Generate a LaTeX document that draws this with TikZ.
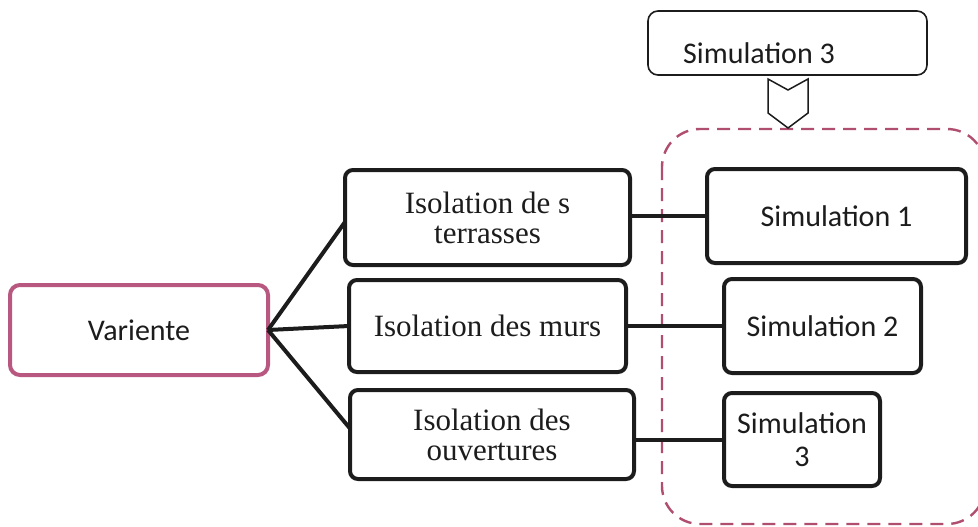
\documentclass[tikz,border=0pt]{standalone}
\usepackage{fontspec}
\setmainfont{Liberation Serif}
\newfontfamily\calib{Carlito}
\definecolor{mauve}{RGB}{184,88,128}
\definecolor{dashmauve}{RGB}{176,78,112}
\definecolor{ink}{RGB}{28,28,28}
\begin{document}
\begin{tikzpicture}[x=1pt,y=-1pt,
  box/.style={draw=ink, line width=4pt, rounded corners=8pt, inner sep=0pt, outer sep=0pt, text=ink, align=center},
  sbox/.style={box, font=\calib\fontsize{30}{33}\selectfont},
  ibox/.style={box, font=\fontsize{31}{30}\selectfont},
  vbox/.style={box, draw=mauve, rounded corners=10pt, font=\calib\fontsize{30}{33}\selectfont},
  topbox/.style={draw=ink, line width=1.6pt, rounded corners=10pt, inner sep=0pt, outer sep=0pt, text=ink, font=\calib\fontsize{30}{33}\selectfont},
  link/.style={draw=ink, line width=4pt},
  group/.style={draw=dashmauve, line width=2.4pt, dash pattern=on 13pt off 8pt, rounded corners=38pt}]
\useasboundingbox (0,0) rectangle (978,527);
\begin{scope}
  \clip (0,0) rectangle (978,527);
  % dashed frame around the simulations
  \draw[group] (662,129) rectangle (985,524);
\end{scope}
% header box and chevron
\node[topbox, minimum width=279pt, minimum height=64pt] (top) at (787.5,43)
  {\raisebox{-10pt}[\height][\depth]{Simulation 3}\kern57pt\relax};
\coordinate (cv) at (788,79);
\draw[ink, line width=1.5pt, line join=miter]
  (cv) ++(-20,0) -- ++(20,11) -- ++(20,-11) -- ++(0,34) -- ++(-20,15) -- ++(-20,-15) -- cycle;
% root
\node[vbox, minimum width=258pt, minimum height=90pt] (var) at (139,330) {Variente};
% insulation options
\node[ibox, minimum width=285pt, minimum height=95pt] (terr) at (487.5,217.5) {Isolation de s\\terrasses};
\node[ibox, minimum width=277pt, minimum height=92pt] (murs) at (487.5,326) {Isolation des murs};
\node[ibox, minimum width=284pt, minimum height=89pt] (ouv) at (492,434.5) {Isolation des\\ouvertures};
% simulations
\node[sbox, minimum width=259pt, minimum height=94pt] (sim1) at (836.5,216) {Simulation 1};
\node[sbox, minimum width=197pt, minimum height=94pt] (sim2) at (822.5,326) {Simulation 2};
\node[sbox, minimum width=156pt, minimum height=93pt] (sim3) at (802,439.5) {Simulation\\3};
% connectors
\draw[link] (var.east) -- ([yshift=-4.5pt]terr.west);
\draw[link] (var.east) -- (murs.west);
\draw[link] (var.east) -- ([yshift=6pt]ouv.west);
\draw[link] (terr.east |- sim1.west) -- (sim1.west);
\draw[link] (murs.east |- sim2.west) -- (sim2.west);
\draw[link] (ouv.east |- sim3.west) -- (sim3.west);
\end{tikzpicture}
\end{document}
